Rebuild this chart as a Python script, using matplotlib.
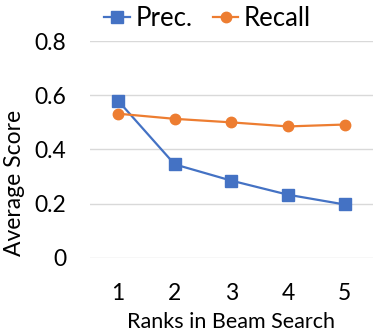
import matplotlib
matplotlib.use("Agg")
import matplotlib.pyplot as plt

# data
ranks = [1, 2, 3, 4, 5]
prec = [0.58, 0.345, 0.285, 0.233, 0.197]
recall = [0.532, 0.513, 0.500, 0.485, 0.492]
yticks = [0, 0.2, 0.4, 0.6, 0.8]
ytick_labels = ["0", "0.2", "0.4", "0.6", "0.8"]

plt.rcParams['font.family'] = ['Lato', 'DejaVu Sans']
fs = 16.5

fig = plt.figure(figsize=(3.74, 3.34), dpi=100)
ax = fig.add_axes([0.24, 0.228, 0.757, 0.649])

ax.plot(ranks, prec, color="#4472C4", lw=1.6, marker="s", ms=8.5, label="Prec.")
ax.plot(ranks, recall, color="#ED7D31", lw=1.6, marker="o", ms=7.5, label="Recall")

ax.set_xlim(0.5, 5.5)
ax.set_ylim(0, 0.8)
ax.set_xticks(ranks)
ax.set_yticks(yticks)
ax.set_yticklabels(ytick_labels)
ax.yaxis.grid(True, color="#D9D9D9", lw=1)
ax.set_axisbelow(True)
for s in ax.spines.values():
    s.set_visible(False)
ax.tick_params(axis="both", length=0, labelsize=fs)
ax.tick_params(axis="y", pad=17)
ax.tick_params(axis="x", pad=18)
ax.set_xlabel("Ranks in Beam Search", fontsize=15.5, labelpad=6)
fig.text(0.038, 0.452, "Average Score", rotation=90, ha="center", va="center", fontsize=16.5)

fig.legend(loc="upper center", bbox_to_anchor=(0.555, 1.05), ncol=2, frameon=False,
           fontsize=18.5, handlelength=1.0, columnspacing=0.8, handletextpad=0.2)

fig.savefig("out.png", dpi=100)
